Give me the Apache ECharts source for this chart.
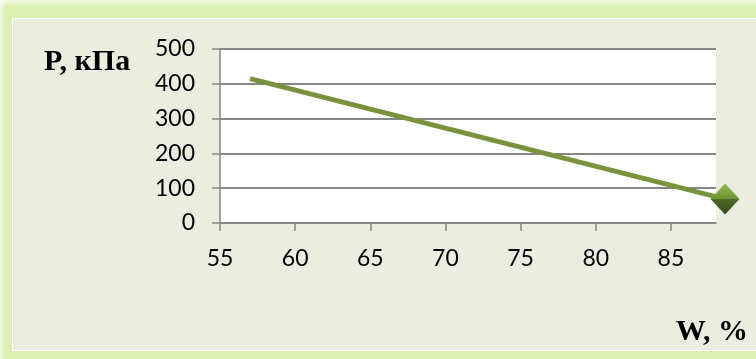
<!DOCTYPE html>
<html>
<head>
<meta charset="utf-8">
<script src="https://cdn.jsdelivr.net/npm/echarts@6/dist/echarts.min.js"></script>
<style>
  html, body { margin: 0; padding: 0; background: #ffffff; }
  #wrap { position: relative; width: 756px; height: 359px; overflow: hidden; background: #ffffff; }
  #glow { position: absolute; left: 5px; top: 6px; width: 780px; height: 380px;
          background: #dcf0b2; box-shadow: 0 0 7px 4px #dcf0b2; }
  #panel { position: absolute; left: 12px; top: 18px; width: 760px; height: 333px;
           background: #ebeedf; border: 1.5px solid #ffffff; box-sizing: border-box; }
  #chart { position: absolute; left: 0; top: 0; width: 756px; height: 359px; }
</style>
</head>
<body>
<div id="wrap">
  <div id="glow"></div>
  <div id="panel"></div>
  <div id="chart"></div>
</div>
<script>
// Moisture W (%) and pressure P (kPa)
const moisture = [57, 88.6];
const pressure = [415, 69];
const yTicks = [0, 100, 200, 300, 400, 500];
const xTicks = [55, 60, 65, 70, 75, 80, 85];

const chart = echarts.init(document.getElementById('chart'), null, { renderer: 'canvas' });

const points = moisture.map((w, i) => [w, pressure[i]]);
const lastIndex = points.length - 1;

const diamondFill = new echarts.graphic.LinearGradient(0, 0, 0, 1, [
  { offset: 0, color: '#93b752' },
  { offset: 0.5, color: '#6f9533' },
  { offset: 0.5, color: '#4e6b26' },
  { offset: 1, color: '#33461a' }
]);

chart.setOption({
  backgroundColor: 'transparent',
  animation: false,
  grid: { left: 220, right: 40, top: 49, bottom: 136, containLabel: false,
          show: true, backgroundColor: '#ffffff', borderWidth: 0 },
  xAxis: {
    type: 'value',
    min: 55, max: 88,
    axisLine: { show: true, onZero: false, lineStyle: { color: '#868686', width: 1.5 } },
    axisTick: { show: true, length: 8, customValues: xTicks,
                lineStyle: { color: '#868686', width: 1.5 } },
    splitLine: { show: false },
    axisLabel: {
      margin: 24, fontFamily: 'Lato', fontSize: 23, color: '#000000',
      customValues: xTicks
    }
  },
  yAxis: {
    type: 'value',
    min: 0, max: 500, interval: 100,
    axisLine: { show: true, lineStyle: { color: '#868686', width: 1.5 } },
    axisTick: { show: true, length: 8, lineStyle: { color: '#868686', width: 1.5 } },
    splitLine: { show: true, lineStyle: { color: '#868686', width: 2 } },
    axisLabel: { margin: 25, fontFamily: 'Lato', fontSize: 23, color: '#000000' }
  },
  graphic: [
    { type: 'text', left: 44, top: 47,
      style: { text: 'P, кПа', font: 'bold 30px "Liberation Serif"', fill: '#000000' } },
    { type: 'text', right: 8, top: 317,
      style: { text: 'W, %', font: 'bold 30px "Liberation Serif"', fill: '#000000' } }
  ],
  series: [{
    type: 'line',
    data: points.map((p, i) => ({
      value: p,
      symbol: i === lastIndex ? 'diamond' : 'none',
      symbolSize: i === lastIndex ? [29, 31] : 0,
      itemStyle: { color: diamondFill }
    })),
    showSymbol: true,
    clip: false,
    lineStyle: { color: '#77933c', width: 5 },
    z: 5
  }]
});
</script>
</body>
</html>
